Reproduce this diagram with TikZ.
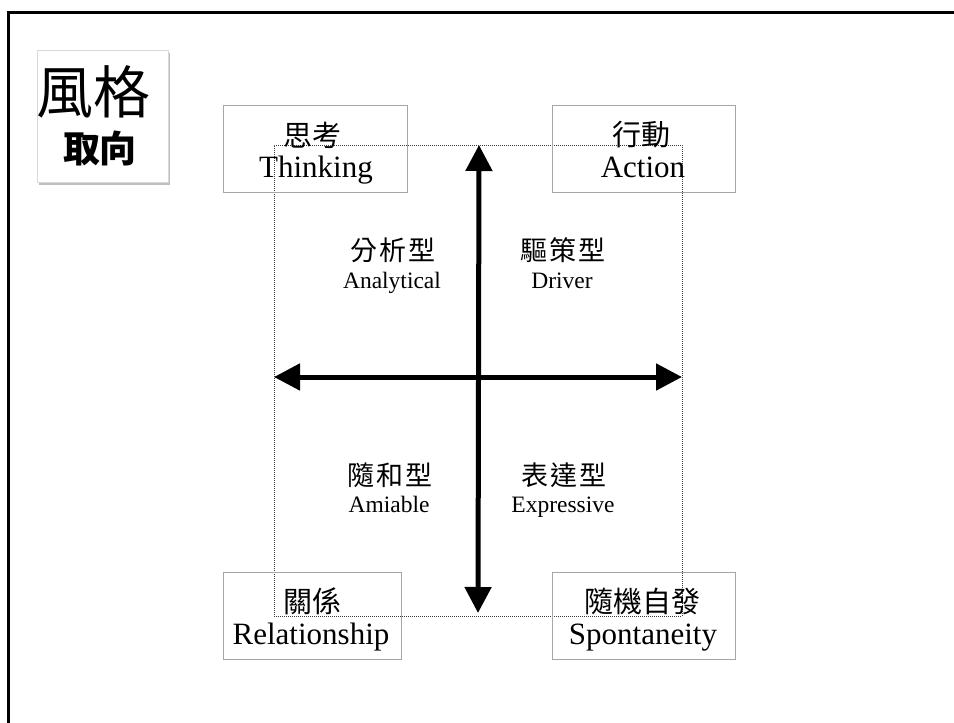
\documentclass[tikz,border=0pt]{standalone}
\usepackage{fontspec}
\setmainfont{Liberation Serif}
\newfontfamily\cjk{Noto Sans CJK TC}
\newfontfamily\cjkq{Noto Sans CJK TC}[LetterSpace=7]
\usetikzlibrary{arrows.meta,shadows}
\definecolor{boxgray}{HTML}{A6A6A6}
\definecolor{dotgray}{HTML}{3A3A3A}
\tikzset{
  labelbox/.style={draw=boxgray, line width=1pt, minimum width=183pt, minimum height=87pt, inner sep=0pt},
  boxcjk/.style={inner sep=0pt, font=\cjk\fontsize{29}{29}\selectfont},
  boxlat/.style={inner sep=0pt, anchor=base, font=\fontsize{31}{31}\selectfont},
  quadcjk/.style={inner sep=0pt, font=\cjkq\fontsize{27}{27}\selectfont},
  quadlat/.style={inner sep=0pt, anchor=base, font=\fontsize{23.5}{23.5}\selectfont},
  axis/.style={line width=5pt, {Triangle[length=26pt,width=26pt]}-{Triangle[length=26pt,width=26pt]}},
  frameline/.style={line width=3pt, black}
}
\begin{document}
\begin{tikzpicture}[x=1pt,y=-1pt]
\useasboundingbox (0,0) rectangle (954,723);
% slide frame (top and left edges)
\coordinate (fbl) at (8.5,723);
\coordinate (ftl) at (8.5,12.5);
\coordinate (ftr) at (954,12.5);
\draw[frameline] (fbl) -- (ftl) -- (ftr);
% title card
\node[fill=white, draw=black!15, line width=0.6pt, minimum width=131pt, minimum height=132pt,
      drop shadow={shadow xshift=2pt, shadow yshift=-3pt, opacity=0.5}] (title) at (102.5,116) {};
\node[inner sep=0pt, font=\cjk\fontsize{57}{57}\selectfont] (t1) at (93,92) {風格};
\node[inner sep=0pt, font=\cjk\bfseries\fontsize{37}{37}\selectfont] (t2) at (100,148) {取向};
% dotted frame
\node[draw=dotgray, line width=1pt, dash pattern=on 1pt off 1pt, minimum width=408pt, minimum height=471pt, inner sep=0pt] (frame) at (478,380.5) {};
% corner boxes
\node[labelbox, minimum width=184pt] (thinkbox) at (315,148.5) {};
\node[labelbox] (actbox) at (643.5,148.5) {};
\node[labelbox, minimum width=178pt] (relbox) at (312,615.5) {};
\node[labelbox] (spbox) at (643.5,615.5) {};
\node[boxcjk] (thinkc) at (312,135) {思考};
\node[boxlat] (thinkl) at (316,177) {Thinking};
\node[boxcjk] (actc) at (641,135) {行動};
\node[boxlat] (actl) at (643,177) {Action};
\node[boxcjk] (relc) at (312,601) {關係};
\node[boxlat] (rell) at (311,644) {Relationship};
\node[boxcjk] (spc) at (642,601) {隨機自發};
\node[boxlat] (spl) at (643,644) {Spontaneity};
% quadrant labels
\node[quadcjk] (anac) at (393,250) {分析型};
\node[quadlat] (anal) at (392,288) {Analytical};
\node[quadcjk] (drvc) at (563,250) {驅策型};
\node[quadlat] (drvl) at (562,288) {Driver};
\node[quadcjk] (amic) at (390,475) {隨和型};
\node[quadlat] (amil) at (389,512) {Amiable};
\node[quadcjk] (expc) at (564,475) {表達型};
\node[quadlat] (expl) at (563,512) {Expressive};
% axes
\coordinate (atop) at (479,145);
\coordinate (abot) at (478,613);
\coordinate (aleft) at (274,377);
\coordinate (aright) at (682,377);
\draw[axis] (aleft) -- (aright);
\draw[axis] (atop) -- (abot);
\end{tikzpicture}
\end{document}
